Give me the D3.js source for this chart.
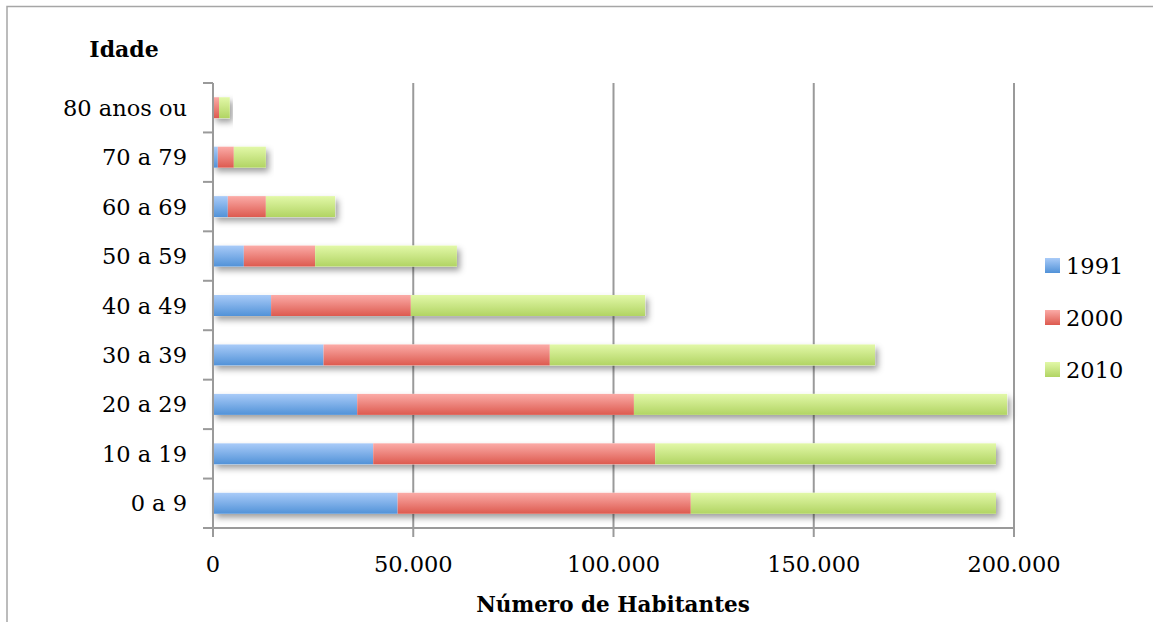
<!DOCTYPE html>
<html>
<head>
<meta charset="utf-8">
<script src="https://cdn.jsdelivr.net/npm/d3@7"></script>
<style>
  body { margin: 0; background: #fff; }
  svg { display: block; font-family: "DejaVu Serif", "Liberation Serif", serif; }
</style>
</head>
<body>
<svg id="chart" width="1153" height="622"></svg>
<script>
// faixas etarias, de baixo para cima
var categories = ["0 a 9", "10 a 19", "20 a 29", "30 a 39", "40 a 49", "50 a 59", "60 a 69", "70 a 79", "80 anos ou"];
var years = ["1991", "2000", "2010"];
var v1991 = [46100, 40000, 36000, 27600, 14500, 7700, 3700, 1200, 200];
var v2000 = [73200, 70400, 69100, 56500, 34900, 17800, 9500, 4000, 1300];
var v2010 = [76200, 85100, 93200, 81200, 58500, 35400, 17300, 8000, 2700];
var xTicks = [0, 50000, 100000, 150000, 200000];

var svg = d3.select('#chart');

var plotLeft = 213, plotRight = 1014, plotTop = 83, plotBottom = 528;

var x = d3.scaleLinear().domain([0, 200000]).range([plotLeft, plotRight]);
var y = d3.scaleBand()
    .domain(categories.slice().reverse())
    .range([plotTop, plotBottom])
    .paddingInner(0.575)
    .paddingOuter(0.2875);
var yTick = d3.scaleBand().domain(categories.slice().reverse()).range([plotTop, plotBottom]);

var colors = {
    "1991": ["#a9cbf8", "#5192d8"],
    "2000": ["#fbaba7", "#dd5a4f"],
    "2010": ["#e2f8a8", "#b1d463"]
};

var defs = svg.append('defs');
years.forEach(function (yr) {
    var g = defs.append('linearGradient')
        .attr('id', 'grad' + yr)
        .attr('x1', 0).attr('y1', 0).attr('x2', 0).attr('y2', 1);
    g.append('stop').attr('offset', '0%').attr('stop-color', colors[yr][0]);
    g.append('stop').attr('offset', '100%').attr('stop-color', colors[yr][1]);
});
defs.append('filter')
    .attr('id', 'shadow')
    .attr('x', '-5%').attr('y', '-40%').attr('width', '120%').attr('height', '200%')
    .append('feDropShadow')
    .attr('dx', 3).attr('dy', 4).attr('stdDeviation', 3)
    .attr('flood-color', '#000').attr('flood-opacity', 0.38);

// outer frame (only top and left edges are visible)
svg.append('rect')
    .attr('x', 7).attr('y', 6.5)
    .attr('width', 1200).attr('height', 700)
    .attr('fill', 'none')
    .attr('stroke', '#a6a6a6')
    .attr('stroke-width', 1.5);

// gridlines
svg.append('g')
    .selectAll('line')
    .data(xTicks.slice(1))
    .enter()
    .append('line')
    .attr('x1', function (d) { return x(d); })
    .attr('x2', function (d) { return x(d); })
    .attr('y1', plotTop)
    .attr('y2', plotBottom)
    .attr('stroke', '#9a9a9a')
    .attr('stroke-width', 2);

// stacked bars
var rows = categories.map(function (c, i) {
    return { cat: c, "1991": v1991[i], "2000": v2000[i], "2010": v2010[i] };
});
var stack = d3.stack().keys(years)(rows);

var barsG = svg.append('g');
// shadow of whole bar
barsG.selectAll('rect.sh')
    .data(rows)
    .enter()
    .append('rect')
    .attr('class', 'sh')
    .attr('x', x(0))
    .attr('y', function (d) { return y(d.cat); })
    .attr('width', function (d) { return x(d["1991"] + d["2000"] + d["2010"]) - x(0); })
    .attr('height', y.bandwidth())
    .attr('fill', '#fff')
    .attr('filter', 'url(#shadow)');

barsG.selectAll('g.series')
    .data(stack)
    .enter()
    .append('g')
    .attr('class', 'series')
    .attr('fill', function (d) { return 'url(#grad' + d.key + ')'; })
    .selectAll('rect')
    .data(function (d) { return d; })
    .enter()
    .append('rect')
    .attr('x', function (d) { return x(d[0]); })
    .attr('y', function (d) { return y(d.data.cat); })
    .attr('width', function (d) { return x(d[1]) - x(d[0]); })
    .attr('height', y.bandwidth());

// axes
var axisColor = '#9a9a9a';
svg.append('line')
    .attr('x1', plotLeft).attr('x2', plotLeft)
    .attr('y1', plotTop).attr('y2', plotBottom)
    .attr('stroke', axisColor).attr('stroke-width', 2);
svg.append('line')
    .attr('x1', plotLeft - 10).attr('x2', plotRight)
    .attr('y1', plotBottom).attr('y2', plotBottom)
    .attr('stroke', axisColor).attr('stroke-width', 2);

// y ticks at band boundaries
var yBounds = categories.slice().reverse().map(function (c) { return yTick(c); }).concat([plotBottom]);
svg.append('g')
    .selectAll('line')
    .data(yBounds)
    .enter()
    .append('line')
    .attr('x1', plotLeft - 10).attr('x2', plotLeft)
    .attr('y1', function (d) { return d; })
    .attr('y2', function (d) { return d; })
    .attr('stroke', axisColor).attr('stroke-width', 2);

// x ticks
svg.append('g')
    .selectAll('line')
    .data(xTicks)
    .enter()
    .append('line')
    .attr('x1', function (d) { return x(d); })
    .attr('x2', function (d) { return x(d); })
    .attr('y1', plotBottom).attr('y2', plotBottom + 9)
    .attr('stroke', axisColor).attr('stroke-width', 2);

var fmt = function (d) { return d3.format(',')(d).replace(/,/g, '.'); };

svg.append('g')
    .selectAll('text')
    .data(xTicks)
    .enter()
    .append('text')
    .attr('x', function (d) { return x(d); })
    .attr('y', 572)
    .attr('text-anchor', 'middle')
    .attr('font-size', 22.5)
    .attr('fill', '#000')
    .text(fmt);

svg.append('g')
    .selectAll('text')
    .data(categories)
    .enter()
    .append('text')
    .attr('x', 187)
    .attr('y', function (d) { return yTick(d) + yTick.bandwidth() / 2; })
    .attr('dy', '0.36em')
    .attr('text-anchor', 'end')
    .attr('font-size', 22.5)
    .attr('fill', '#000')
    .text(function (d) { return d; });

// titles
svg.append('text')
    .attr('x', 124).attr('y', 57)
    .attr('text-anchor', 'middle')
    .attr('font-size', 22)
    .attr('font-weight', 'bold')
    .text('Idade');

svg.append('text')
    .attr('x', 613).attr('y', 612)
    .attr('text-anchor', 'middle')
    .attr('font-size', 21.5)
    .attr('font-weight', 'bold')
    .text('Número de Habitantes');

// legend
var legend = svg.append('g')
    .selectAll('g')
    .data(years)
    .enter()
    .append('g')
    .attr('transform', function (d, i) { return 'translate(1045,' + (258 + i * 52) + ')'; });
legend.append('rect')
    .attr('width', 15).attr('height', 15)
    .attr('fill', function (d) { return 'url(#grad' + d + ')'; });
legend.append('text')
    .attr('x', 21).attr('y', 7.5)
    .attr('dy', '0.36em')
    .attr('font-size', 22.5)
    .text(function (d) { return d; });
</script>
</body>
</html>
